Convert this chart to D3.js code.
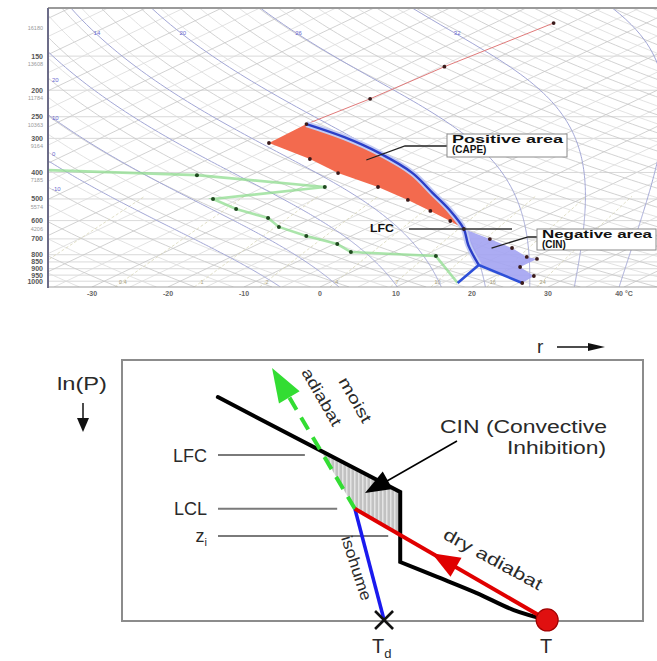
<!DOCTYPE html>
<html>
<head>
<meta charset="utf-8">
<script src="https://cdn.jsdelivr.net/npm/d3@7"></script>
<style>
body { margin: 0; background: #fff; }
svg { display: block; font-family: "Liberation Sans", Arial, sans-serif; }
</style>
</head>
<body>
<div id="chart"></div>
<script>
// ---------- skew-T sounding ----------
var envP = [1015, 957, 887, 829, 815, 756, 701, 644, 602, 553, 504, 452, 402, 357, 312, 266, 215, 164, 113.5];
var envT = [25.5, 25.1, 20.8, 20.8, 18.9, 14.5, 9.1, 2.9, -1.1, -6.5, -12.5, -20.0, -29.1, -36.7, -46.5, -46.8, -45.4, -44.5, -42.2];
var dewP = [392, 409, 452, 500, 544, 587, 633, 683, 731, 782, 809, 1015];
var dewT = [-68.1, -47.1, -27.0, -38.4, -32.6, -25.9, -22.0, -15.9, -9.6, -5.6, 6.7, 17.0];
var parcelP = [1015, 872, 737, 644, 549, 476, 402, 339, 297, 266];
var parcelT = [25.5, 14.8, 7.9, 2.9, -4.2, -11.1, -19.3, -29.3, -38.2, -46.8];
var sfcTd = 17.0;
var lfcP = 644, elP = 266;

// axes / grid values
var pLevels = [150, 200, 250, 300, 400, 500, 600, 700, 800, 850, 900, 950, 1000];
var zLevels = [100, 150, 200, 250, 300, 400, 500, 600];
var zHeights = [16180, 13608, 11784, 10363, 9164, 7185, 5574, 4206];
var tTicks = [-30, -20, -10, 0, 10, 20, 30, 40];
var isotherms = d3.range(-120, 60, 5);
var dryThetas = d3.range(-40, 230, 5);
var moistThetas = [-8, 0, 8, 14, 20, 26, 32, 38];
var mixRatios = [0.1, 0.4, 1, 2, 4, 7, 10, 16, 24];

// ---------- schematic (units: 0-100 across the box) ----------
var envR = [18.4, 53.4, 53.4, 60.5, 68.1, 75.2, 81.6];
var envLn = [14.2, 50.6, 77.4, 83.1, 89.3, 95.8, 99.6];
var dryR = [81.6, 44.7], dryLn = [99.6, 57.0];
var moistR = [44.7, 28.8], moistLn = [57.0, 3.1];
var isoR = [44.7, 50.3], isoLn = [57.0, 99.6];
var levelNames = ["LFC", "LCL", "z"];
var levelLn = [36.4, 57.0, 67.4];
var levelEndR = [35.1, 41.3, 51.1];

var W = 657, H = 661;
var svg = d3.select("#chart").append("svg").attr("width", W).attr("height", H);

// ================= top panel =================
var plotL = 48, plotR = 657, plotT = 8, plotB = 287;
var yP = d3.scaleLog().domain([1050, 100]).range([plotB, plotT]);
var xT = d3.scaleLinear().domain([-30, 40]).range([92, 624]);
var SKEW = 2.1;
function sx(t, p) { return xT(t) + SKEW * (plotB - yP(p)); }
var pSteps = d3.range(0, 121).map(function(i) { return 1050 * Math.pow(100 / 1050, i / 120); });

svg.append("clipPath").attr("id", "clipT").append("rect")
    .attr("x", plotL).attr("y", plotT).attr("width", plotR - plotL).attr("height", plotB - plotT);

var grid = svg.append("g").attr("clip-path", "url(#clipT)");
var line = d3.line();

// isobars
grid.selectAll(".isobar").data(pLevels).enter().append("line")
    .attr("x1", plotL).attr("x2", plotR)
    .attr("y1", function(p) { return yP(p); }).attr("y2", function(p) { return yP(p); })
    .attr("stroke", "#cfcfcf").attr("stroke-width", 0.8);

// isotherms
grid.selectAll(".iso").data(isotherms).enter().append("line")
    .attr("x1", function(t) { return sx(t, 1050); }).attr("y1", yP(1050))
    .attr("x2", function(t) { return sx(t, 100); }).attr("y2", yP(100))
    .attr("stroke", function(t) { return t % 10 === 0 ? "#c6c6c6" : "#dadada"; }).attr("stroke-width", 0.8);

// dry adiabats
function dryT(th, p) { return (th + 273.15) * Math.pow(p / 1000, 0.286) - 273.15; }
grid.selectAll(".dry").data(dryThetas).enter().append("path")
    .attr("d", function(th) { return line(pSteps.map(function(p) { return [sx(dryT(th, p), p), yP(p)]; })); })
    .attr("fill", "none").attr("stroke", function(th) { return th % 10 === 0 ? "#c6c6c6" : "#dadada"; })
    .attr("stroke-width", 0.8);

// mixing ratio lines
function mixT(w, p) {
    var es = (w / 1000) * p / (0.622 + w / 1000);
    var L = Math.log(es / 6.112);
    return 243.5 * L / (17.67 - L);
}
var pMix = pSteps.filter(function(p) { return p >= 480; });
grid.selectAll(".mix").data(mixRatios).enter().append("path")
    .attr("d", function(w) { return line(pMix.map(function(p) { return [sx(mixT(w, p), p), yP(p)]; })); })
    .attr("fill", "none").attr("stroke", "#d8d5b8").attr("stroke-width", 0.8)
    .attr("stroke-dasharray", "3,2");
grid.selectAll(".mixlab").data(mixRatios.filter(function(w) { return sx(mixT(w, 1000), 1000) < plotR - 10; }))
    .enter().append("text")
    .attr("x", function(w) { return sx(mixT(w, 1000), 1000); }).attr("y", yP(1000) + 3)
    .attr("text-anchor", "middle").attr("font-size", 5.5).attr("fill", "#a8a07e")
    .text(function(w) { return w; });

// moist (pseudo) adiabats
function lapse(p, T) {
    var es = 6.112 * Math.exp(17.67 * (T - 273.15) / (T - 273.15 + 243.5));
    var rs = 0.622 * es / (p - es);
    return ((287.04 * T + 2.501e6 * rs) / p) / (1005.7 + (2.501e6 * 2.501e6 * rs * 0.622) / (287.04 * T * T));
}
function moistCurve(tw) {
    var Tb = tw + 273.15, pts = [];
    for (var q = 1000; q < 1050; q += 5) { Tb += lapse(q, Tb) * 5; }
    pts.push([1050, Tb]);
    for (var p = 1050; p > 100; p -= 5) {
        var k1 = lapse(p, Tb);
        var k2 = lapse(p - 5, Tb - 5 * k1);
        Tb -= 5 * (k1 + k2) / 2;
        pts.push([p - 5, Tb]);
    }
    return pts;
}
var moistData = moistThetas.map(function(tw) {
    var pts = moistCurve(tw);
    var q = pts.find(function(v) { return v[0] <= 128; });
    return { tw: tw, pts: pts, lx: sx(q[1] - 273.15, q[0]) };
});
grid.selectAll(".moist").data(moistData).enter().append("path")
    .attr("d", function(d) { return line(d.pts.map(function(q) { return [sx(q[1] - 273.15, q[0]), yP(q[0])]; })); })
    .attr("fill", "none").attr("stroke", "#a3a7d6").attr("stroke-width", 1);
svg.selectAll(".moistlab").data(moistData.filter(function(d) { return d.lx > 70 && d.lx < 620; }))
    .enter().append("text")
    .attr("x", function(d) { return d.lx; })
    .attr("y", yP(128) - 2)
    .attr("font-size", 6).attr("fill", "#6a6ad0").attr("text-anchor", "middle")
    .text(function(d) { return d.tw; });

// dry adiabat labels at the left edge
dryThetas.filter(function(th) { return th % 10 === 0; }).forEach(function(th) {
    var lo = 100, hi = 1050;
    for (var i = 0; i < 40; i++) {
        var mid = Math.sqrt(lo * hi);
        if (sx(dryT(th, mid), mid) < plotL + 3) lo = mid; else hi = mid;
    }
    var y = yP(lo);
    if (y > 45 && y < 215) {
        svg.append("text").attr("x", plotL + 4).attr("y", y + 2)
            .attr("font-size", 6).attr("fill", "#6a6ad0").text(th);
    }
});

// ---- profiles ----
var marks = svg.append("g").attr("clip-path", "url(#clipT)");
function pt(p, t) { return [sx(t, p), yP(p)]; }
var envPts = envP.map(function(p, i) { return pt(p, envT[i]); });
var parPts = parcelP.map(function(p, i) { return pt(p, parcelT[i]); });
var dewPts = dewP.map(function(p, i) { return pt(p, dewT[i]); });
var smooth = d3.line().curve(d3.curveCatmullRom);

// dewpoint
marks.append("path").attr("d", line(dewPts)).attr("fill", "none")
    .attr("stroke", "#8fdc8f").attr("stroke-width", 2.6).attr("stroke-opacity", 0.75);

// CAPE area: env from LFC up to EL, then parcel back down
var capeEnv = envPts.filter(function(d, i) { return envP[i] <= lfcP && envP[i] >= elP; });
var capePar = parPts.filter(function(d, i) { return parcelP[i] <= lfcP && parcelP[i] >= elP; }).reverse();
marks.append("path")
    .attr("d", line(capeEnv) + "L" + smooth(capePar).slice(1) + "Z")
    .attr("fill", "#f36a4e");

// CIN area: env from surface to LFC, parcel back to LCL, dry adiabat to surface
var cinEnv = envPts.filter(function(d, i) { return envP[i] >= lfcP; });
var cinPar = parPts.filter(function(d, i) { return parcelP[i] >= lfcP; }).reverse();
marks.append("path")
    .attr("d", line(cinEnv) + "L" + smooth(cinPar.slice(0, cinPar.length - 1)).slice(1) + "L" + cinPar[cinPar.length - 1].join(",") + "Z")
    .attr("fill", "#a3a3f2").attr("fill-opacity", 0.9);

// environment line above EL
marks.append("path").attr("d", line(envPts.filter(function(d, i) { return envP[i] <= elP; })))
    .attr("fill", "none").attr("stroke", "#e07a7a").attr("stroke-width", 1);

// parcel path: halo + line
var moistPar = parPts.slice(1);
marks.append("path").attr("d", smooth(moistPar)).attr("fill", "none")
    .attr("stroke", "#c3cbf3").attr("stroke-width", 6);
marks.append("path").attr("d", smooth(moistPar)).attr("fill", "none")
    .attr("stroke", "#2b3fc8").attr("stroke-width", 2.4);
var lcl = parPts[1];
marks.append("path").attr("d", line([parPts[0], lcl, pt(parcelP[0], sfcTd)]))
    .attr("fill", "none").attr("stroke", "#2d4fd8").attr("stroke-width", 2.6);

// dots
marks.selectAll(".edot").data(envPts).enter().append("circle")
    .attr("cx", function(d) { return d[0]; }).attr("cy", function(d) { return d[1]; })
    .attr("r", 1.9).attr("fill", "#3a1a1a");
marks.selectAll(".ddot").data(dewPts.slice(1, dewPts.length - 1)).enter().append("circle")
    .attr("cx", function(d) { return d[0]; }).attr("cy", function(d) { return d[1]; })
    .attr("r", 2).attr("fill", "#1f4a1f");

// frame
svg.append("line").attr("x1", plotL).attr("x2", plotR).attr("y1", plotT).attr("y2", plotT)
    .attr("stroke", "#9a9a9a").attr("stroke-width", 2);
svg.append("line").attr("x1", plotL).attr("x2", plotR).attr("y1", plotB).attr("y2", plotB)
    .attr("stroke", "#a0a0a0").attr("stroke-width", 1.2);
svg.append("line").attr("x1", plotL).attr("x2", plotL).attr("y1", plotT).attr("y2", plotB + 1)
    .attr("stroke", "#6c6c88").attr("stroke-width", 2);

// pressure labels + standard heights
svg.selectAll(".plab").data(pLevels).enter().append("text")
    .attr("x", plotL - 5).attr("y", function(p) { return yP(p) + 2.5; })
    .attr("text-anchor", "end").attr("font-size", 7).attr("font-weight", "bold").attr("fill", "#555")
    .text(function(p) { return p; });
svg.selectAll(".zlab").data(zLevels).enter().append("text")
    .attr("x", plotL - 5).attr("y", function(p, i) { return yP(p) + (i === 0 ? 22 : 10); })
    .attr("text-anchor", "end").attr("font-size", 5.5).attr("fill", "#999")
    .text(function(p, i) { return zHeights[i]; });

// temperature labels
svg.selectAll(".tlab").data(tTicks).enter().append("text")
    .attr("x", function(t) { return xT(t); }).attr("y", plotB + 9)
    .attr("text-anchor", "middle").attr("font-size", 7).attr("font-weight", "bold").attr("fill", "#666")
    .text(function(t) { return t === 40 ? "40 \u00b0C" : t; });

// annotations
function boxLabel(x, y, w, h, lines) {
    svg.append("rect").attr("x", x).attr("y", y).attr("width", w).attr("height", h)
        .attr("fill", "#fff").attr("stroke", "#8a8a8a").attr("stroke-width", 1);
    lines.forEach(function(s, i) {
        svg.append("text").attr("x", x + 5).attr("y", y + 9 + i * 10)
            .attr("font-size", 10).attr("font-weight", "bold").attr("fill", "#111")
            .attr("textLength", s.length > 6 ? w - 9 : null).attr("lengthAdjust", "spacingAndGlyphs")
            .text(s);
    });
}
var capeTip = pt(360, -29);
svg.append("path").attr("d", line([[447, 146], [405, 146], capeTip]))
    .attr("fill", "none").attr("stroke", "#222").attr("stroke-width", 1.3);
boxLabel(447, 134, 120, 23, ["Positive area", "(CAPE)"]);

var lfcY = yP(lfcP);
svg.append("line").attr("x1", 409).attr("x2", 512).attr("y1", lfcY).attr("y2", lfcY)
    .attr("stroke", "#333").attr("stroke-width", 1.3);
svg.append("text").attr("x", 370).attr("y", lfcY + 3.5).attr("font-size", 10).attr("font-weight", "bold")
    .attr("fill", "#111").attr("textLength", 24).attr("lengthAdjust", "spacingAndGlyphs").text("LFC");

var cinTip = pt(756, 11.8);
svg.append("path").attr("d", line([[537, 237], [528, 237], cinTip]))
    .attr("fill", "none").attr("stroke", "#222").attr("stroke-width", 1.3);
boxLabel(537, 229, 119, 21, ["Negative area", "(CIN)"]);

// ================= bottom panel: schematic =================
var sr = d3.scaleLinear().domain([0, 100]).range([122, 643]);
var sy = d3.scaleLinear().domain([0, 100]).range([360, 621]);
function sp(r, l) { return [sr(r), sy(l)]; }
var ink = "#2a2a2a";

svg.append("rect").attr("x", sr(0)).attr("y", sy(0)).attr("width", sr(100) - sr(0)).attr("height", sy(100) - sy(0))
    .attr("fill", "none").attr("stroke", "#8c8c8c").attr("stroke-width", 2);

// stripe pattern for CIN
var pat = svg.append("defs").append("pattern").attr("id", "stripes")
    .attr("patternUnits", "userSpaceOnUse").attr("width", 4).attr("height", 4);
pat.append("rect").attr("width", 4).attr("height", 4).attr("fill", "#c2c2c2");
pat.append("rect").attr("x", 2).attr("width", 1.5).attr("height", 4).attr("fill", "#e4e4e4");

function intersect(a, b, c, d) {
    var den = (a[0] - b[0]) * (c[1] - d[1]) - (a[1] - b[1]) * (c[0] - d[0]);
    var t = ((a[0] - c[0]) * (c[1] - d[1]) - (a[1] - c[1]) * (c[0] - d[0])) / den;
    return [a[0] + t * (b[0] - a[0]), a[1] + t * (b[1] - a[1])];
}
var sEnv = envR.map(function(r, i) { return sp(r, envLn[i]); });
var sDry = dryR.map(function(r, i) { return sp(r, dryLn[i]); });
var sMoist = moistR.map(function(r, i) { return sp(r, moistLn[i]); });
var sIso = isoR.map(function(r, i) { return sp(r, isoLn[i]); });
var sLFC = intersect(sMoist[0], sMoist[1], sEnv[0], sEnv[1]);
var sCut = intersect(sDry[0], sDry[1], sEnv[1], sEnv[2]);

svg.append("path").attr("d", line([sLFC, sEnv[1], sCut, sMoist[0]]) + "Z").attr("fill", "url(#stripes)");

// level lines + labels
levelNames.forEach(function(n, i) {
    var y = sy(levelLn[i]);
    svg.append("line").attr("x1", 218).attr("x2", sr(levelEndR[i])).attr("y1", y).attr("y2", y)
        .attr("stroke", "#7a7a7a").attr("stroke-width", 2);
    var t = svg.append("text").attr("x", 207).attr("y", y + 6.5).attr("text-anchor", "end")
        .attr("font-size", 18).attr("fill", ink).text(n);
    if (n === "z") t.append("tspan").attr("font-size", 11).attr("dy", 4).text("i");
});

// environment (black)
svg.append("path").attr("d", line(sEnv.slice(0, 3)) + "L" + smooth(sEnv.slice(2)).slice(1))
    .attr("fill", "none").attr("stroke", "#000").attr("stroke-width", 4).attr("stroke-linecap", "round");

// isohume (blue)
svg.append("path").attr("d", line(sIso)).attr("stroke", "#1a1aee").attr("stroke-width", 3.5);

// arrows
function arrowHead(tip, from, len, half, color) {
    var dx = tip[0] - from[0], dy = tip[1] - from[1], L = Math.sqrt(dx * dx + dy * dy);
    var ux = dx / L, uy = dy / L;
    var bx = tip[0] - ux * len, by = tip[1] - uy * len;
    svg.append("path").attr("d", line([tip, [bx - uy * half, by + ux * half], [bx + uy * half, by - ux * half]]) + "Z")
        .attr("fill", color);
    return [bx, by];
}
// moist adiabat (green dashed)
var gBase = arrowHead(sMoist[1], sMoist[0], 34, 12, "#33dd33");
svg.append("path").attr("d", line([sMoist[0], gBase])).attr("stroke", "#33dd33")
    .attr("stroke-width", 4).attr("stroke-dasharray", "14,9");

// dry adiabat (red)
svg.append("path").attr("d", line(sDry)).attr("stroke", "#e00000").attr("stroke-width", 4);
var rTip = [sDry[0][0] + 0.6 * (sDry[1][0] - sDry[0][0]), sDry[0][1] + 0.6 * (sDry[1][1] - sDry[0][1])];
arrowHead(rTip, sDry[0], 28, 11, "#e00000");
svg.append("circle").attr("cx", sDry[0][0]).attr("cy", sDry[0][1]).attr("r", 11)
    .attr("fill", "#e01010").attr("stroke", "#a00000").attr("stroke-width", 1.2);

// Td cross
var xd = sIso[1];
svg.append("path").attr("d", "M" + (xd[0] - 9) + "," + (xd[1] - 9) + "L" + (xd[0] + 9) + "," + (xd[1] + 9) +
    "M" + (xd[0] + 9) + "," + (xd[1] - 9) + "L" + (xd[0] - 9) + "," + (xd[1] + 9))
    .attr("stroke", "#111").attr("stroke-width", 2.6);

// CIN arrow
svg.append("line").attr("x1", 457).attr("y1", 441).attr("x2", 380).attr("y2", 485)
    .attr("stroke", "#000").attr("stroke-width", 1.6);
arrowHead([365, 493], [457, 441], 26, 10, "#000");

// texts
function txt(x, y, s, size, len, rot) {
    var t = svg.append("text").attr("x", x).attr("y", y).attr("font-size", size).attr("fill", ink).text(s);
    if (len) t.attr("textLength", len).attr("lengthAdjust", "spacingAndGlyphs");
    if (rot) t.attr("transform", "rotate(" + rot + "," + x + "," + y + ")");
    return t;
}
txt(57, 390, "ln(P)", 19, 50);
svg.append("line").attr("x1", 83).attr("x2", 83).attr("y1", 403).attr("y2", 420).attr("stroke", "#111").attr("stroke-width", 1.5);
svg.append("path").attr("d", "M77,418L89,418L83,432Z").attr("fill", "#111");

txt(537, 353, "r", 19);
svg.append("line").attr("x1", 557).attr("x2", 592).attr("y1", 347).attr("y2", 347).attr("stroke", "#111").attr("stroke-width", 1.5);
svg.append("path").attr("d", "M588,343L588,351L605,347Z").attr("fill", "#111");

txt(440, 433, "CIN (Convective", 18, 167);
txt(507, 454, "Inhibition)", 18, 99);

txt(338, 381, "moist", 16, 50, 60);
txt(301, 372, "adiabat", 16, 64, 60);
txt(442, 538, "dry adiabat", 17, 110, 28.6);
txt(341, 538, "isohume", 16, 67, 72);

txt(540, 653, "T", 20);
var td = txt(372, 653, "T", 20);
td.append("tspan").attr("font-size", 13).attr("dy", 5).text("d");
</script>
</body>
</html>
